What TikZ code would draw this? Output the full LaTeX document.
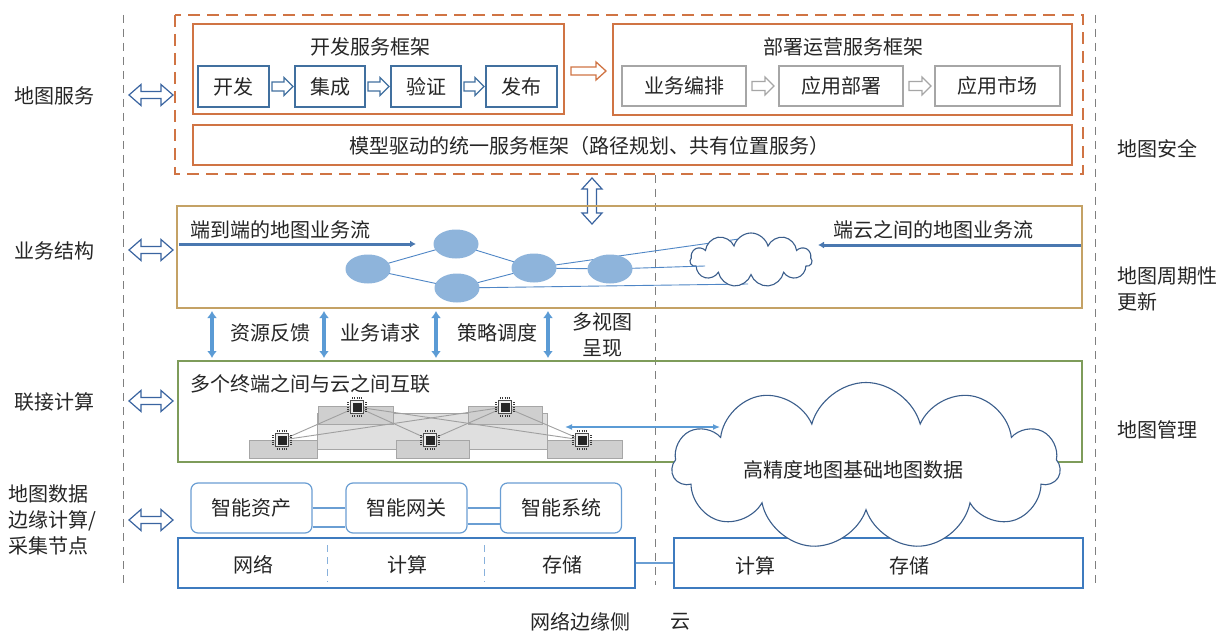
\documentclass[tikz,border=0pt]{standalone}
\usepackage{fontspec}
\setmainfont{Noto Sans CJK SC}
\usetikzlibrary{arrows.meta,shapes.symbols,shapes.geometric}

\definecolor{txt}{HTML}{262626}
\definecolor{orng}{HTML}{D07444}
\definecolor{bbox}{HTML}{41709F}
\definecolor{gbox}{HTML}{A6A6A6}
\definecolor{tan}{HTML}{C4A265}
\definecolor{grn}{HTML}{7E9C5A}
\definecolor{ell}{HTML}{8EB4DB}
\definecolor{edge}{HTML}{4F86C6}
\definecolor{steel}{HTML}{5B9BD5}
\definecolor{flowc}{HTML}{4A78B0}
\definecolor{cloudc}{HTML}{3B5E8C}
\definecolor{lblue}{HTML}{6A9ED3}
\definecolor{dblue}{HTML}{3E7BBF}
\definecolor{dash}{HTML}{7F7F7F}
\definecolor{hollowc}{HTML}{3A64A0}

% hollow block arrows: style, start, end, fixed coordinate, half shaft, half head, head length
\newcommand\hollowR[7]{\draw[#1] (#2,{#4-#5}) -- ({#3-#7},{#4-#5}) -- ({#3-#7},{#4-#6}) -- (#3,#4)
  -- ({#3-#7},{#4+#6}) -- ({#3-#7},{#4+#5}) -- (#2,{#4+#5}) -- cycle;}
\newcommand\hollowLR[7]{\draw[#1] (#2,#4) -- ({#2+#7},{#4-#6}) -- ({#2+#7},{#4-#5}) -- ({#3-#7},{#4-#5})
  -- ({#3-#7},{#4-#6}) -- (#3,#4) -- ({#3-#7},{#4+#6}) -- ({#3-#7},{#4+#5}) -- ({#2+#7},{#4+#5})
  -- ({#2+#7},{#4+#6}) -- cycle;}
\newcommand\hollowUD[7]{\draw[#1] (#4,#2) -- ({#4-#6},{#2+#7}) -- ({#4-#5},{#2+#7}) -- ({#4-#5},{#3-#7})
  -- ({#4-#6},{#3-#7}) -- (#4,#3) -- ({#4+#6},{#3-#7}) -- ({#4+#5},{#3-#7}) -- ({#4+#5},{#2+#7})
  -- ({#4+#6},{#2+#7}) -- cycle;}

\tikzset{
  lbl/.style={font=\fontsize{20}{26}\selectfont, text=txt, inner sep=0pt},
  guide/.style={draw=dash, line width=1pt, dash pattern=on 8pt off 6pt},
  frame/.style={draw=orng, line width=1.3pt},
  devbox/.style={draw=bbox, line width=1.3pt, fill=white, lbl},
  opbox/.style={draw=gbox, line width=1.3pt, fill=white, lbl},
  blueho/.style={draw=bbox, line width=1.1pt, fill=white},
  grayho/.style={draw=gbox, line width=1.1pt, fill=white},
  sideho/.style={draw=hollowc, line width=1.2pt, fill=white},
  orangeho/.style={draw=orng, line width=1.3pt, fill=white},
  ellnode/.style={ellipse, fill=ell, minimum width=45pt, minimum height=29pt, inner sep=0pt},
  edgeline/.style={draw=edge, line width=0.9pt},
  flow/.style={draw=flowc, line width=3pt, -{Latex[length=6pt,width=7pt]}},
  updown/.style={draw=steel, line width=3.6pt, {Latex[length=7pt,width=10pt]}-{Latex[length=7pt,width=10pt]}},
  cloudshape/.style={cloud, draw=cloudc, fill=white, line width=1.1pt, inner sep=0pt},
  plate/.style={fill=#1, draw=gray!70, line width=0.8pt},
  chip/.style={draw=gray!60!black, fill=gray!15, minimum size=13pt, inner sep=0pt,
    path picture={\fill[gray!30!black] ([shift={(-4.5pt,-4.5pt)}]path picture bounding box.center)
      rectangle ([shift={(4.5pt,4.5pt)}]path picture bounding box.center);}},
  pins/.style={draw=gray!45!black, line width=1.8pt, dash pattern=on 1pt off 1.1pt},
  mesh/.style={draw=gray!75, line width=0.9pt},
  smart/.style={draw=lblue, line width=1.2pt, rounded corners=7pt, fill=white, lbl,
    minimum width=121pt, minimum height=50pt},
  store/.style={draw=dblue, line width=1.4pt, minimum height=50pt},
  sep/.style={draw=lblue!80, line width=1pt, dash pattern=on 7pt off 5pt},
}

\begin{document}
\begin{tikzpicture}[x=1pt,y=-1pt]
\useasboundingbox (0,0) rectangle (1225,631);
\fill[white] (0,0) rectangle (1225,631);

% guide lines
\draw[guide] (123,15) -- (123,585);
\draw[guide] (1095,15) -- (1095,585);
\draw[guide] (655,175) -- (655,585);

% ---------- map service layer ----------
\draw[frame, dash pattern=on 12pt off 7pt] (175,15) rectangle (1083,174);
\node[frame, minimum width=371pt, minimum height=90pt] (devfw) at (378.5,69) {};
\node[lbl] (devtitle) at (370,47) {开发服务框架};
\node[devbox, minimum width=71pt, minimum height=41pt] (d1) at (233.5,86.5) {开发};
\node[devbox, minimum width=70pt, minimum height=41pt] (d2) at (330,86.5) {集成};
\node[devbox, minimum width=70pt, minimum height=41pt] (d3) at (426,86.5) {验证};
\node[devbox, minimum width=71pt, minimum height=41pt] (d4) at (521.5,86.5) {发布};
\hollowR{blueho}{272}{293}{86.5}{4.5}{9}{9}
\hollowR{blueho}{368}{389}{86.5}{4.5}{9}{9}
\hollowR{blueho}{464}{484}{86.5}{4.5}{9}{9}

\hollowR{orangeho}{571}{606}{71}{4}{9}{10}

\node[frame, minimum width=459pt, minimum height=91pt] (opfw) at (842.5,69.5) {};
\node[lbl] (optitle) at (843,47) {部署运营服务框架};
\node[opbox, minimum width=124pt, minimum height=40pt] (o1) at (684,86) {业务编排};
\node[opbox, minimum width=124pt, minimum height=40pt] (o2) at (841,86) {应用部署};
\node[opbox, minimum width=125pt, minimum height=40pt] (o3) at (997.5,86) {应用市场};
\hollowR{grayho}{752}{774}{86}{4.5}{9}{9}
\hollowR{grayho}{909}{931}{86}{4.5}{9}{9}

\node[frame, minimum width=879pt, minimum height=40pt] (unified) at (632.5,145) {};
\node[lbl] (unitext) at (589,146) {模型驱动的统一服务框架（路径规划、共有位置服务）};

\hollowUD{sideho}{178}{224}{592}{4.5}{10}{11}

% ---------- business structure layer ----------
\node[draw=tan, line width=1.5pt, minimum width=905pt, minimum height=102pt] (biz) at (629.5,257) {};
\node[lbl, anchor=west] (e2etext) at (190,230) {端到端的地图业务流};
\node[lbl, anchor=west] (e2ctext) at (833,230) {端云之间的地图业务流};
\coordinate (f1s) at (179,244);
\coordinate (f1e) at (416,244);
\coordinate (f2s) at (1081,245);
\coordinate (f2e) at (818,245);
\draw[flow] (f1s) -- (f1e);
\draw[flow] (f2s) -- (f2e);

\coordinate (e1c) at (368,269);
\coordinate (e2c) at (456,244);
\coordinate (e3c) at (457,288);
\coordinate (e4c) at (534,268);
\coordinate (e5c) at (610,269);
\coordinate (ct) at (753,237);
\coordinate (cm) at (705,266);
\coordinate (cb) at (748,284);
\draw[edgeline] (e1c) -- (e2c);
\draw[edgeline] (e1c) -- (e3c);
\draw[edgeline] (e2c) -- (e4c);
\draw[edgeline] (e3c) -- (e4c);
\draw[edgeline] (e4c) -- (e5c);
\draw[edgeline] (e4c) -- (ct);
\draw[edgeline] (e3c) -- (cb);
\node[cloudshape, minimum width=122pt, minimum height=54pt, cloud puffs=11, aspect=2.3] (smallcloud) at (751,260) {};
\draw[edgeline] (e5c) -- (cm);
\node[ellnode] (e1) at (e1c) {};
\node[ellnode] (e2) at (e2c) {};
\node[ellnode] (e3) at (e3c) {};
\node[ellnode] (e4) at (e4c) {};
\node[ellnode] (e5) at (e5c) {};

% interaction arrows between layers
\foreach \x/\n in {212/a, 324/b, 436/c, 548/d}{
  \coordinate (up\n) at (\x,311);
  \coordinate (dn\n) at (\x,358);
  \draw[updown] (up\n) -- (dn\n);
}
\node[lbl] (fb) at (270,333) {资源反馈};
\node[lbl] (rq) at (380,333) {业务请求};
\node[lbl] (sc) at (497,333) {策略调度};
\node[lbl, align=center] (mv) at (602,335) {多视图\\呈现};

% ---------- connection layer ----------
\node[draw=grn, line width=1.5pt, minimum width=904pt, minimum height=101pt] (conn) at (630,411.5) {};
\node[lbl, anchor=west] (conntext) at (190,384) {多个终端之间与云之间互联};

\path[plate=gray!25] (317,413) rectangle (547,449);
\path[plate=gray!38] (318,406) rectangle (393,424);
\path[plate=gray!38] (468,406) rectangle (542,424);
\path[plate=gray!38] (249,440) rectangle (317,458);
\path[plate=gray!38] (396,440) rectangle (469,458);
\path[plate=gray!38] (547,440) rectangle (622,458);

\coordinate (k1) at (357,407);
\coordinate (k2) at (505,407);
\coordinate (k3) at (282,440);
\coordinate (k4) at (430,440);
\coordinate (k5) at (582,440);
\foreach \a/\b in {k1/k3, k1/k4, k1/k5, k2/k3, k2/k4, k2/k5}{
  \draw[mesh] (\a) -- (\b);
}
\foreach \k in {k1,k2,k3,k4,k5}{
  \node[chip] (chip\k) at (\k) {};
  \draw[pins] ([xshift=2pt,yshift=2.3pt]chip\k.north west) -- ([xshift=-2pt,yshift=2.3pt]chip\k.north east);
  \draw[pins] ([xshift=2pt,yshift=-2.3pt]chip\k.south west) -- ([xshift=-2pt,yshift=-2.3pt]chip\k.south east);
  \draw[pins] ([xshift=-2.3pt,yshift=-2pt]chip\k.north west) -- ([xshift=-2.3pt,yshift=2pt]chip\k.south west);
  \draw[pins] ([xshift=2.3pt,yshift=-2pt]chip\k.north east) -- ([xshift=2.3pt,yshift=2pt]chip\k.south east);
}

\coordinate (linkL) at (565,427);
\coordinate (linkR) at (720,427);
\draw[draw=steel, line width=1.3pt, {Latex[length=7pt,width=6pt]}-{Latex[length=7pt,width=6pt]}] (linkL) -- (linkR);

% ---------- edge / cloud data layer ----------
\node[smart] (s1) at (251.5,508) {智能资产};
\node[smart] (s2) at (406.5,508) {智能网关};
\node[smart] (s3) at (561,508) {智能系统};
\draw[draw=lblue, line width=1.2pt] (s1.east) -- (s2.west);
\draw[draw=lblue, line width=1.2pt] ([yshift=-19pt]s1.east) -- ([yshift=-19pt]s2.west);
\draw[draw=lblue, line width=1.2pt] (s2.east) -- (s3.west);
\draw[draw=lblue, line width=1.2pt] ([yshift=-16pt]s2.east) -- ([yshift=-16pt]s3.west);

\node[store, minimum width=457pt] (edgebox) at (406.5,563) {};
\node[store, minimum width=409pt] (cloudbox) at (878.5,563) {};
\draw[draw=lblue, line width=1.2pt] (edgebox.east) -- (cloudbox.west);
\draw[sep] (327,545) -- (327,582);
\draw[sep] (484,545) -- (484,582);
\node[lbl] (net) at (253,565) {网络};
\node[lbl] (cmp1) at (407,565) {计算};
\node[lbl] (sto1) at (562,565) {存储};
\node[lbl] (cmp2) at (755,566) {计算};
\node[lbl] (sto2) at (909,566) {存储};

\node[cloudshape, minimum width=388pt, minimum height=167pt, cloud puffs=11, aspect=2.3] (bigcloud) at (866,466) {};
\node[lbl] (hdmap) at (853,470) {高精度地图基础地图数据};

% ---------- side labels ----------
\node[lbl, anchor=west] (ls1) at (14,96) {地图服务};
\node[lbl, anchor=west] (ls2) at (14,251) {业务结构};
\node[lbl, anchor=west] (ls3) at (14,402) {联接计算};
\node[lbl, anchor=west, align=left] (ls4) at (8,520) {地图数据\\边缘计算/\\采集节点};
\foreach \y in {95,250,401,520}{
  \hollowLR{sideho}{129}{173}{\y}{3.5}{10.5}{12}
}

\node[lbl, anchor=west] (rs1) at (1117,149) {地图安全};
\node[lbl, anchor=west, align=left] (rs2) at (1117,289) {地图周期性\\更新};
\node[lbl, anchor=west] (rs3) at (1117,430) {地图管理};

\node[lbl] (edgeside) at (580,622) {网络边缘侧};
\node[lbl] (cloudside) at (680,622) {云};
\end{tikzpicture}
\end{document}
